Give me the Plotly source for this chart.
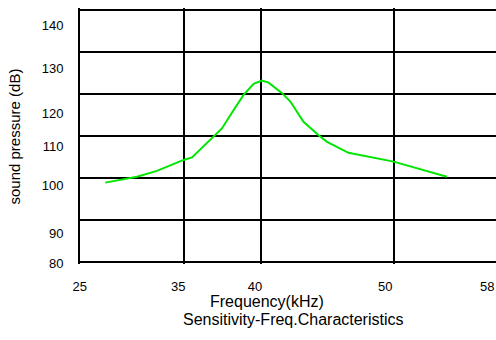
import plotly.graph_objects as go

# Sensitivity curve (frequency in kHz, sound pressure in dB)
freq_khz = [27.07, 29.59, 31.18, 33.30, 33.97, 35.56, 36.35, 37.28, 38.07, 38.87,
            39.53, 40.06, 41.13, 41.79, 42.84, 44.04, 44.71, 46.42, 50.00, 54.25]
spl_db = [98.9, 100.3, 101.7, 104.3, 104.9, 109.5, 111.8, 116.2, 119.8, 122.4,
          123.2, 122.7, 120.2, 118.2, 113.4, 110.2, 108.6, 106.0, 103.9, 100.3]

# tick labels as printed on the chart
x_tick_labels = ["25", "35", "40", "50", "58"]
y_tick_labels = ["80", "90", "100", "110", "120", "130", "140"]

# where the grid lines and the printed labels sit (axis units)
x_grid = [25, 33.33, 39.45, 50.0]
x_label_pos = [25.04, 32.88, 38.98, 49.34, 57.46]
y_grid = [80, 90, 100, 110, 120, 130, 140]
y_label_pos = [79.69, 86.83, 98.33, 107.45, 115.40, 126.12, 136.43]

FONT = "Liberation Sans, Arial, sans-serif"
XR = [24.9, 58.15]
YR = [79.52, 140.48]

fig = go.Figure()
fig.add_trace(go.Scatter(x=freq_khz, y=spl_db, mode="lines",
                         line=dict(color="#00e600", width=2), showlegend=False,
                         hoverinfo="skip"))
# invisible trace to activate label axes
fig.add_trace(go.Scatter(x=[XR[0]], y=[YR[0]], xaxis="x2", yaxis="y2",
                         mode="markers", marker=dict(opacity=0), showlegend=False,
                         hoverinfo="skip"))

fig.update_layout(
    width=496, height=340,
    margin=dict(l=78, r=0, t=8, b=76),
    paper_bgcolor="white", plot_bgcolor="white",
    font=dict(family=FONT, color="black"),
    hovermode=False,
    xaxis=dict(range=XR, tickvals=x_grid, showticklabels=False, ticks="",
               showgrid=True, gridcolor="black", gridwidth=2, zeroline=False,
               showline=False, fixedrange=True),
    yaxis=dict(range=YR, tickvals=y_grid, showticklabels=False, ticks="",
               showgrid=True, gridcolor="black", gridwidth=2, zeroline=False,
               showline=False, fixedrange=True),
    xaxis2=dict(range=XR, overlaying="x", side="bottom", anchor="y",
                tickvals=x_label_pos, ticktext=x_tick_labels,
                ticks="outside", ticklen=10, tickcolor="rgba(0,0,0,0)",
                showgrid=False, zeroline=False, showline=False, automargin=False,
                fixedrange=True,
                tickfont=dict(size=13, family=FONT, color="black")),
    yaxis2=dict(range=YR, overlaying="y", side="left", anchor="x",
                tickvals=y_label_pos, ticktext=y_tick_labels,
                ticks="outside", ticklen=11, tickcolor="rgba(0,0,0,0)",
                showgrid=False, zeroline=False, showline=False, automargin=False,
                fixedrange=True,
                tickfont=dict(size=13, family=FONT, color="black")),
    annotations=[
        dict(text="Frequency(kHz)", xref="paper", yref="paper", x=0.4514, y=-0.146,
             xanchor="center", yanchor="middle", showarrow=False,
             font=dict(size=16, family=FONT, color="black")),
        dict(text="Sensitivity-Freq.Characteristics", xref="paper", yref="paper",
             x=0.5144, y=-0.2168, xanchor="center", yanchor="middle", showarrow=False,
             font=dict(size=16, family=FONT, color="black")),
        dict(text="sound pressure (dB)", xref="paper", yref="paper", x=-0.1507, y=0.498,
             xanchor="center", yanchor="middle", textangle=-90, showarrow=False,
             font=dict(size=15, family=FONT, color="black")),
    ],
)

fig.write_html("out.html",
               config={"displayModeBar": False, "staticPlot": True},
               post_script="document.body.style.margin='0';"
                           "document.body.style.overflow='hidden';")
